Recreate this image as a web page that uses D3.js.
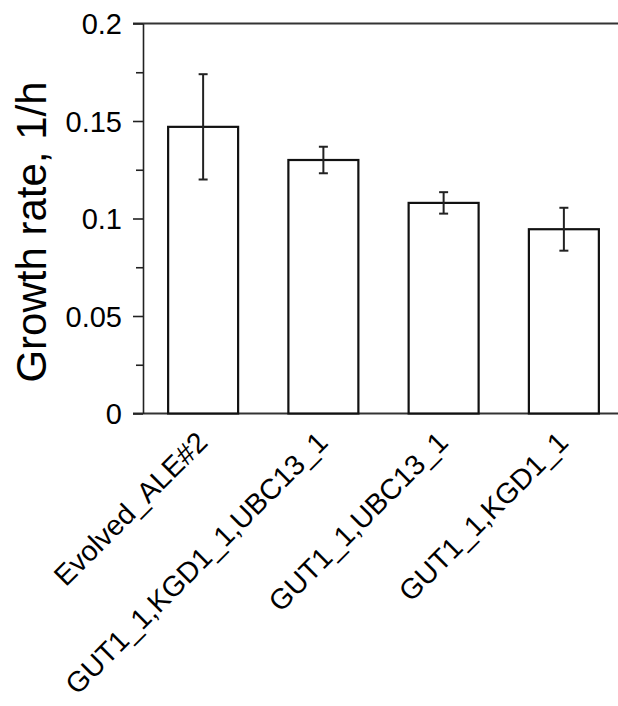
<!DOCTYPE html>
<html lang="en">
<head>
    <meta charset="UTF-8">
    <title>Growth rate</title>
    <script src="https://d3js.org/d3.v7.min.js"></script>
    <style>
        body {
            margin: 0;
            padding: 0;
            background: #fff;
            font-family: Arial, "Liberation Sans", sans-serif;
        }
        .tick text {
            font-size: 29px;
            fill: #000;
        }
        .tick line, .domain {
            stroke: #222;
            stroke-width: 1.6px;
        }
    </style>
</head>
<body>
    <svg width="618" height="706"></svg>
    <script>
        const strains = ["Evolved_ALE#2", "GUT1_1,KGD1_1,UBC13_1", "GUT1_1,UBC13_1", "GUT1_1,KGD1_1"];
        const growthRates = [0.147, 0.130, 0.108, 0.0945];
        const errors = [0.027, 0.0068, 0.0055, 0.011];
        const majorTicks = [0, 0.05, 0.1, 0.15, 0.2];
        const majorLabels = ["0", "0.05", "0.1", "0.15", "0.2"];
        const minorTicks = [0.025, 0.075, 0.125, 0.175];

        const svg = d3.select("svg"),
            width = +svg.attr("width");

        const plotLeft = 143, plotTop = 23.5, plotBottom = 413.5;

        const data = strains.map((s, i) => ({ name: s, value: growthRates[i], err: errors[i] }));

        const x = d3.scaleBand()
            .domain(strains)
            .range([plotLeft, 624])
            .paddingInner(0.418)
            .paddingOuter(0.209);

        const y = d3.scaleLinear()
            .domain([0, 0.2])
            .range([plotBottom, plotTop]);

        // frame lines at 0 and 0.2, starting where the major ticks start
        svg.append("g")
            .selectAll("line")
            .data([0, 0.2])
            .enter().append("line")
            .attr("x1", plotLeft - 10)
            .attr("x2", width)
            .attr("y1", d => y(d))
            .attr("y2", d => y(d))
            .attr("stroke", "#333")
            .attr("stroke-width", 1.8);

        // minor ticks
        svg.append("g")
            .attr("transform", `translate(${plotLeft},0)`)
            .call(d3.axisLeft(y).tickValues(minorTicks).tickSize(7).tickSizeOuter(0).tickFormat(""))
            .call(g => g.select(".domain").remove());

        // major ticks + labels
        svg.append("g")
            .attr("transform", `translate(${plotLeft},0)`)
            .call(d3.axisLeft(y)
                .tickValues(majorTicks)
                .tickSize(10)
                .tickSizeOuter(0)
                .tickPadding(11)
                .tickFormat((d, i) => majorLabels[i]))
            .call(g => g.selectAll("text").attr("dy", "0.36em").style("font-family", "Arial, 'Liberation Sans', sans-serif"));

        // bars
        svg.append("g")
            .selectAll("rect")
            .data(data)
            .enter().append("rect")
            .attr("x", d => x(d.name))
            .attr("width", x.bandwidth())
            .attr("y", d => y(d.value))
            .attr("height", d => y(0) - y(d.value))
            .attr("fill", "#fff")
            .attr("stroke", "#111")
            .attr("stroke-width", 2.2);

        // error bars
        const eb = svg.append("g")
            .attr("stroke", "#222")
            .attr("stroke-width", 2)
            .selectAll("g")
            .data(data)
            .enter().append("g");

        eb.append("line")
            .attr("x1", d => x(d.name) + x.bandwidth() / 2)
            .attr("x2", d => x(d.name) + x.bandwidth() / 2)
            .attr("y1", d => y(d.value - d.err))
            .attr("y2", d => y(d.value + d.err));

        [1, -1].forEach(sign => {
            eb.append("line")
                .attr("x1", d => x(d.name) + x.bandwidth() / 2 - 4.5)
                .attr("x2", d => x(d.name) + x.bandwidth() / 2 + 4.5)
                .attr("y1", d => y(d.value + sign * d.err))
                .attr("y2", d => y(d.value + sign * d.err));
        });

        // category labels
        svg.append("g")
            .selectAll("text")
            .data(strains)
            .enter().append("text")
            .attr("transform", d => `translate(${x(d) + x.bandwidth() / 2 + 6},444) rotate(-45)`)
            .attr("text-anchor", "end")
            .style("font-size", "28.5px")
            .style("fill", "#000")
            .text(d => d);

        // y axis title
        svg.append("text")
            .attr("transform", "translate(46,232) rotate(-90)")
            .attr("text-anchor", "middle")
            .style("font-size", "42px")
            .style("fill", "#000")
            .text("Growth rate, 1/h");
    </script>
</body>
</html>
